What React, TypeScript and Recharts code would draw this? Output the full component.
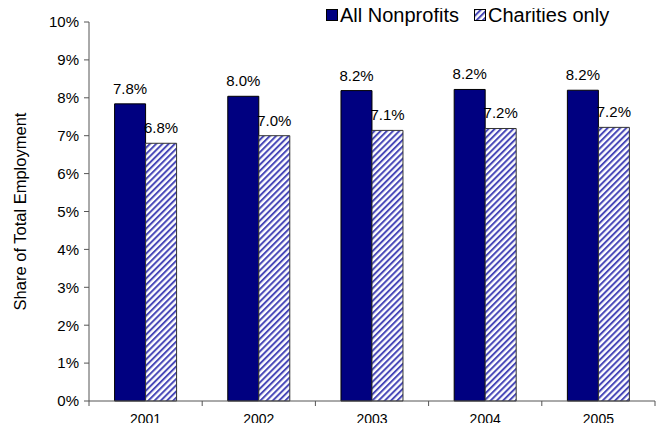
import React from "react";
import {
  Bar,
  BarChart,
  LabelList,
  Label,
  XAxis,
  YAxis,
} from "recharts";

const years = ["2001", "2002", "2003", "2004", "2005"];
const allNonprofits = [7.84, 8.04, 8.19, 8.22, 8.2];
const charitiesOnly = [6.8, 7.0, 7.14, 7.19, 7.22];
const yTicks = [0, 1, 2, 3, 4, 5, 6, 7, 8, 9, 10];

const data = years.map((year, i) => ({
  year,
  all: allNonprofits[i],
  charities: charitiesOnly[i],
}));

const WIDTH = 669;
const HEIGHT = 431;
const MARGIN = { top: 22, right: 14, left: 0, bottom: 0 };
const Y_AXIS_W = 89;
const X_AXIS_H = 30;
const PLOT_W = WIDTH - MARGIN.left - MARGIN.right - Y_AXIS_W;
const NAVY = "#000080";
const AXIS = "#555";
const FONT = "'Liberation Sans', Arial, sans-serif";

const fmt = (v: number) => `${v.toFixed(1)}%`;

function YearTick(props: any) {
  const { x, y, payload, index } = props;
  const band = PLOT_W / years.length;
  return (
    <g>
      <line x1={x - band / 2} x2={x - band / 2} y1={y} y2={y + 5} stroke={AXIS} />
      {index === years.length - 1 && (
        <line x1={x + band / 2} x2={x + band / 2} y1={y} y2={y + 5} stroke={AXIS} />
      )}
      <text x={x} y={y + 23} textAnchor="middle" fontSize={14} fill="#000" fontFamily={FONT}>
        {payload.value}
      </text>
    </g>
  );
}

function Hatch() {
  return (
    <pattern id="hatch" width="4.4" height="4.4" patternUnits="userSpaceOnUse" patternTransform="rotate(45)">
      <rect width="4.4" height="4.4" fill="#fff" />
      <rect width="2" height="4.4" fill="#4848b8" />
    </pattern>
  );
}

function LegendOverlay() {
  const item = (fill: string, label: string, left: number) => (
    <div style={{ position: "absolute", left, top: 4, display: "flex", alignItems: "center" }}>
      <svg width={12} height={12} style={{ marginRight: 2 }}>
        <defs>
          <Hatch />
        </defs>
        <rect x={0.5} y={0.5} width={11} height={11} fill={fill} stroke="#000" />
      </svg>
      <span style={{ fontSize: 20, fontFamily: FONT, lineHeight: "22px" }}>{label}</span>
    </div>
  );
  return (
    <>
      {item(NAVY, "All Nonprofits", 326)}
      {item("url(#hatch)", "Charities only", 474)}
    </>
  );
}

export default function App() {
  return (
    <div style={{ position: "relative", width: WIDTH, height: HEIGHT, margin: -8, background: "#fff" }}>
      <BarChart
        width={WIDTH}
        height={HEIGHT}
        data={data}
        margin={MARGIN}
        barCategoryGap="22.6%"
        barGap={0}
      >
        <defs>
          <Hatch />
        </defs>
        <XAxis
          dataKey="year"
          height={X_AXIS_H}
          stroke={AXIS}
          tickLine={false}
          tickSize={0}
          tickMargin={0}
          tick={<YearTick />}
          interval={0}
        />
        <YAxis
          width={Y_AXIS_W}
          domain={[0, 10]}
          ticks={yTicks}
          interval={0}
          tickFormatter={(v: number) => `${v}%`}
          stroke={AXIS}
          tickSize={5}
          tickMargin={5}
          tick={{ fill: "#000", fontSize: 15, fontFamily: FONT }}
        >
          <Label
            value="Share of Total Employment"
            angle={-90}
            position="center"
            dx={-24}
            style={{ fontSize: 16.5, fontFamily: FONT, fill: "#000" }}
          />
        </YAxis>
        <Bar dataKey="all" fill={NAVY} stroke="#000" strokeWidth={1} isAnimationActive={false}>
          <LabelList
            dataKey="all"
            position="top"
            offset={10}
            formatter={(v: any) => fmt(Number(v))}
            style={{ fontSize: 15, fontFamily: FONT, fill: "#000" }}
          />
        </Bar>
        <Bar dataKey="charities" fill="url(#hatch)" stroke="#333" strokeWidth={1} isAnimationActive={false}>
          <LabelList
            dataKey="charities"
            position="top"
            offset={10}
            formatter={(v: any) => fmt(Number(v))}
            style={{ fontSize: 15, fontFamily: FONT, fill: "#000" }}
          />
        </Bar>
      </BarChart>
      <LegendOverlay />
    </div>
  );
}
